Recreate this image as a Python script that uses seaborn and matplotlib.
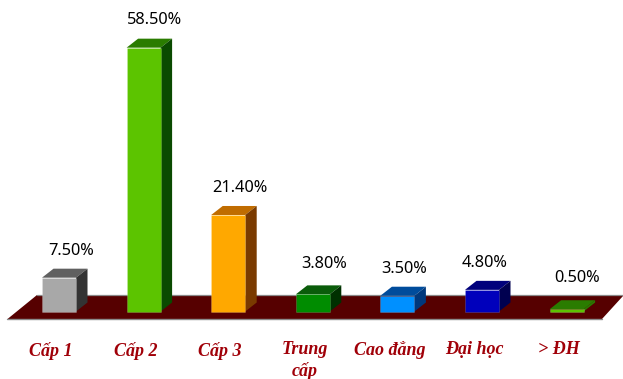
import matplotlib
matplotlib.use("Agg")
import matplotlib.pyplot as plt
from matplotlib.patches import Polygon
import pandas as pd
import seaborn as sns

categories = ["Cấp 1", "Cấp 2", "Cấp 3", "Trung\ncấp", "Cao đẳng", "Đại học", "> ĐH"]
values = [7.5, 58.5, 21.4, 3.8, 3.5, 4.8, 0.5]
value_labels = ["7.50%", "58.50%", "21.40%", "3.80%", "3.50%", "4.80%", "0.50%"]

front_colors = ["#a8a8a8", "#5cc400", "#ffa800", "#008c00", "#0090ff", "#0000bc", "#5cc400"]
top_colors = ["#606060", "#2a7c00", "#c06c00", "#0a5c0a", "#004c9c", "#00007c", "#2a7c00"]
side_colors = ["#333333", "#0a4a00", "#7a3a00", "#003000", "#00387c", "#000050", "#2a7c00"]

# pixel offsets of the value labels from the bars (x from centre, y above the front top)
label_dx = [12, 11, 12, 11, 7, 3, 10]
label_dy = [27, 28, 27, 30, 27, 27, 31]

W, H = 623, 379
X0, XSTEP = 59.0, 84.6      # pixel centre of first bar, pixels per category
Y0, YSCALE = 311.5, 4.51    # pixel of the baseline, pixels per percent
DEPTH_PX, RISE_PX = 11.5, 9.0


def ux(px):
    return px / XSTEP


def uy(px):
    return px / YSCALE


def dx(px):
    return (px - X0) / XSTEP


def dy(px):
    return (Y0 - px) / YSCALE


sns.set_theme(style="white")
fig = plt.figure(figsize=(W / 100, H / 100), dpi=100, facecolor="white")
ax = fig.add_axes([0, 0, 1, 1])

df = pd.DataFrame({"cat": categories, "val": values})

sns.barplot(data=df, x="cat", y="val", hue="cat", palette=front_colors, legend=False,
            saturation=1, width=34 / XSTEP, dodge=False, ax=ax, zorder=3,
            linewidth=0.5, edgecolor="#ffffff33")
bars = [b for c in ax.containers for b in c]

# floor
floor = [(dx(7.5), dy(319)), (dx(602), dy(319)), (dx(623), dy(296)), (dx(623), dy(295)), (dx(37), dy(295))]
ax.add_patch(Polygon(floor, closed=True, facecolor="#560000", edgecolor="none", zorder=1))
ax.plot([dx(7.5), dx(602)], [dy(319.3)] * 2, color="#8a8a8a", lw=1.0, zorder=1.5)
ax.plot([dx(37), dx(623)], [dy(294.7)] * 2, color="#8a8a8a", lw=0.9, zorder=1.5)

ddx, ddy = ux(DEPTH_PX), uy(RISE_PX)
for bar, v, top_c, side_c, text, ox, oy in zip(bars, values, top_colors, side_colors,
                                               value_labels, label_dx, label_dy):
    x0 = bar.get_x()
    x1 = x0 + bar.get_width()
    ax.add_patch(Polygon([(x0, v), (x1, v), (x1 + ddx, v + ddy), (x0 + ddx, v + ddy)],
                         closed=True, facecolor=top_c, edgecolor="none", zorder=2.8))
    ax.add_patch(Polygon([(x1, 0), (x1 + ddx, ddy), (x1 + ddx, v + ddy), (x1, v)],
                         closed=True, facecolor=side_c, edgecolor="none", zorder=2.8))
    ax.text((x0 + x1) / 2 + ux(ox), v + uy(oy), text, ha="center", va="center",
            fontsize=11.8, family="Noto Sans", color="#000000", zorder=5)

for i, name in enumerate(categories):
    ax.text(i - ux(8), dy(341.5), name, ha="center", va="top", fontsize=13,
            family="Liberation Serif", style="italic", weight="bold", color="#a00008",
            linespacing=1.22, zorder=5)

ax.set_xlim(dx(0), dx(W))
ax.set_ylim(dy(H), dy(0))
ax.set_xlabel("")
ax.set_ylabel("")
ax.set_xticks([])
ax.set_yticks([])
ax.axis("off")

fig.savefig("out.png", dpi=100, facecolor="white")
